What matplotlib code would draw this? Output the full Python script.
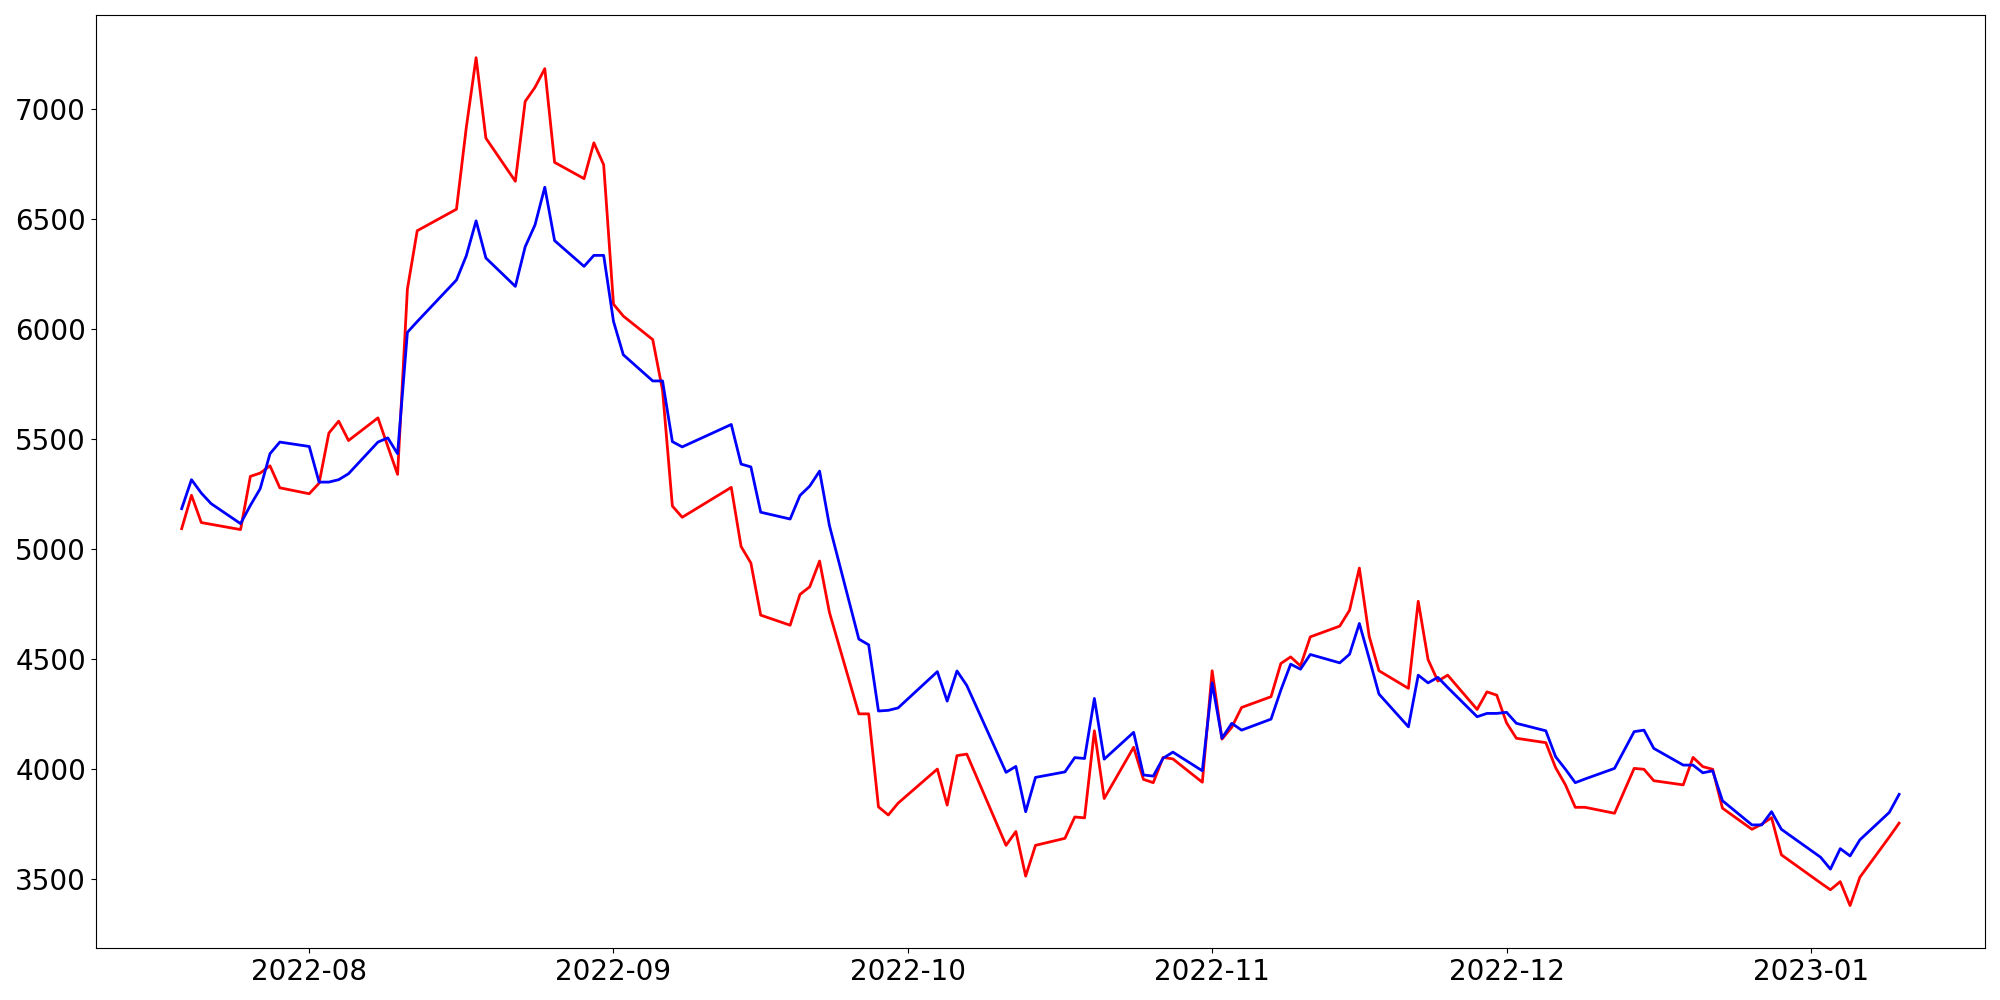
import pandas as pd
import matplotlib
matplotlib.use("Agg")
import matplotlib.pyplot as plt

# trading days shown in the chart
dates = [
    "2022-07-19", "2022-07-20", "2022-07-21", "2022-07-22", "2022-07-25", "2022-07-26", "2022-07-27", "2022-07-28", "2022-07-29",
    "2022-08-01", "2022-08-02", "2022-08-03", "2022-08-04", "2022-08-05",
    "2022-08-08", "2022-08-09", "2022-08-10", "2022-08-11", "2022-08-12",
    "2022-08-16", "2022-08-17", "2022-08-18", "2022-08-19",
    "2022-08-22", "2022-08-23", "2022-08-24", "2022-08-25", "2022-08-26",
    "2022-08-29", "2022-08-30", "2022-08-31",
    "2022-09-01", "2022-09-02",
    "2022-09-05", "2022-09-06", "2022-09-07", "2022-09-08",
    "2022-09-13", "2022-09-14", "2022-09-15", "2022-09-16",
    "2022-09-19", "2022-09-20", "2022-09-21", "2022-09-22", "2022-09-23",
    "2022-09-26", "2022-09-27", "2022-09-28", "2022-09-29", "2022-09-30",
    "2022-10-04", "2022-10-05", "2022-10-06", "2022-10-07",
    "2022-10-11", "2022-10-12", "2022-10-13", "2022-10-14",
    "2022-10-17", "2022-10-18", "2022-10-19", "2022-10-20", "2022-10-21",
    "2022-10-24", "2022-10-25", "2022-10-26", "2022-10-27", "2022-10-28",
    "2022-10-31",
    "2022-11-01", "2022-11-02", "2022-11-03", "2022-11-04",
    "2022-11-07", "2022-11-08", "2022-11-09", "2022-11-10", "2022-11-11",
    "2022-11-14", "2022-11-15", "2022-11-16", "2022-11-17", "2022-11-18",
    "2022-11-21", "2022-11-22", "2022-11-23", "2022-11-24", "2022-11-25",
    "2022-11-28", "2022-11-29", "2022-11-30",
    "2022-12-01", "2022-12-02",
    "2022-12-05", "2022-12-06", "2022-12-07", "2022-12-08", "2022-12-09",
    "2022-12-12", "2022-12-14", "2022-12-15", "2022-12-16",
    "2022-12-19", "2022-12-20", "2022-12-21", "2022-12-22", "2022-12-23",
    "2022-12-26", "2022-12-27", "2022-12-28", "2022-12-29",
    "2023-01-02", "2023-01-03", "2023-01-04", "2023-01-05", "2023-01-06",
    "2023-01-09", "2023-01-10",
]

blue_vals = [
    5182, 5314, 5253, 5205, 5114, 5197, 5273, 5432, 5485,
    5465, 5303, 5303, 5314, 5341,
    5485, 5504, 5432, 5984, 6033,
    6222, 6332, 6491, 6322,
    6193, 6373, 6472, 6644, 6401,
    6284, 6334, 6334,
    6034, 5882,
    5763, 5763, 5487, 5463,
    5565, 5385, 5372, 5166,
    5135, 5242, 5285, 5353, 5106,
    4589, 4563, 4262, 4265, 4276,
    4441, 4307, 4444, 4378,
    3983, 4010, 3804, 3960,
    3985, 4050, 4046, 4319, 4043,
    4165, 3971, 3966, 4047, 4075,
    3990,
    4390, 4138, 4206, 4175,
    4225, 4357, 4475, 4452, 4519,
    4481, 4520, 4660, 4501, 4339,
    4190, 4425, 4390, 4415, 4369,
    4236, 4251, 4251,
    4256, 4206,
    4172, 4054, 3997, 3936, 3953,
    4001, 4168, 4175, 4092,
    4016, 4016, 3981, 3990, 3854,
    3744, 3744, 3804, 3724,
    3597, 3543, 3636, 3603, 3676,
    3801, 3883,
]

red_vals = [
    5091, 5243, 5119, 5111, 5087, 5329, 5344, 5377, 5277,
    5250, 5298, 5526, 5580, 5492,
    5595, 5466, 5338, 6181, 6446,
    6544, 6915, 7233, 6867,
    6671, 7034, 7098, 7183, 6757,
    6683, 6846, 6746,
    6112, 6058,
    5951, 5720, 5194, 5143,
    5279, 5010, 4935, 4698,
    4652, 4792, 4827, 4944, 4711,
    4249, 4249, 3826, 3789, 3843,
    3998, 3834, 4059, 4066,
    3651, 3714, 3511, 3651,
    3683, 3780, 3776, 4172, 3864,
    4097, 3951, 3936, 4051, 4044,
    3938,
    4445, 4134, 4188, 4278,
    4327, 4478, 4508, 4467, 4599,
    4648, 4720, 4912, 4602, 4445,
    4365, 4761, 4496, 4398, 4425,
    4269, 4349, 4334,
    4208, 4138,
    4118, 4004, 3926, 3824, 3824,
    3797, 4001, 3997, 3945,
    3926, 4051, 4009, 3997, 3820,
    3724, 3747, 3777, 3608,
    3480, 3449, 3486, 3377, 3506,
    3689, 3752,
]

x = pd.to_datetime(dates)

fig = plt.figure(figsize=(20, 10), dpi=100)
ax = fig.add_axes([0.0479, 0.052, 0.9446, 0.9327])
ax.plot(x, red_vals, color="red", linewidth=2)
ax.plot(x, blue_vals, color="blue", linewidth=2)
ax.tick_params(labelsize=20)
fig.savefig("out.png", dpi=100)
